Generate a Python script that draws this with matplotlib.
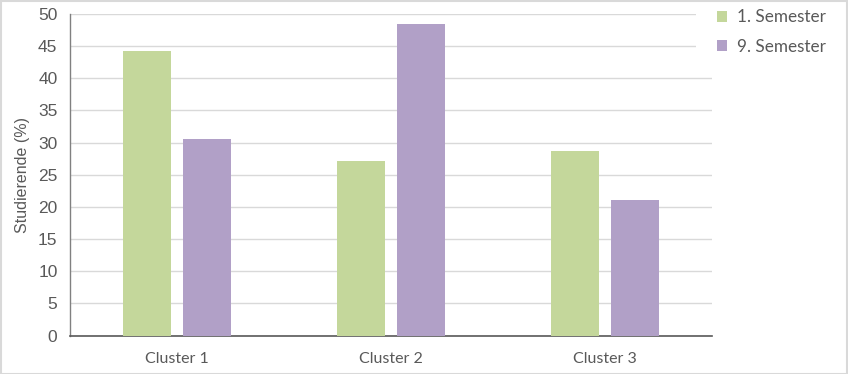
import matplotlib
matplotlib.use("Agg")
import matplotlib.pyplot as plt
import numpy as np
from matplotlib.patches import Rectangle

categories = ["Cluster 1", "Cluster 2", "Cluster 3"]
series_names = ["1. Semester", "9. Semester"]
sem1 = [44.2, 27.1, 28.7]
sem9 = [30.5, 48.5, 21.0]
yticks = [0, 5, 10, 15, 20, 25, 30, 35, 40, 45, 50]

colors = ["#c4d79b", "#b1a0c7"]
txt = "#595959"

fig = plt.figure(figsize=(8.48, 3.74), dpi=100)
W, H = 848, 374
ax = fig.add_axes([70 / W, 1 - 335.5 / H, (712 - 70) / W, (335.5 - 14) / H])

x = np.arange(len(categories))
bw = 0.224
ax.bar(x - 0.142, sem1, bw, color=colors[0], label=series_names[0], zorder=3)
ax.bar(x + 0.142, sem9, bw, color=colors[1], label=series_names[1], zorder=3)

ax.set_xlim(-0.5, 2.5)
ax.set_ylim(0, 50)
ax.set_yticks(yticks)
ax.set_xticks(x)
ax.set_xticklabels(categories, fontfamily="Lato", fontsize=11.5, color=txt)
for lab in ax.get_yticklabels():
    lab.set_fontfamily("Liberation Sans")
    lab.set_fontsize(12.5)
    lab.set_color(txt)
ax.set_axisbelow(True)
ax.tick_params(axis="both", length=0)
ax.tick_params(axis="x", pad=12)
ax.tick_params(axis="y", pad=9)
ax.grid(axis="y", color="#d9d9d9", linewidth=1)
for s in ["top", "right"]:
    ax.spines[s].set_visible(False)
ax.spines["left"].set_color("#808080")
ax.spines["bottom"].set_color("#595959")
ax.spines["left"].set_linewidth(1)
ax.spines["bottom"].set_linewidth(1.2)
ax.set_ylabel("Studierende (%)", fontfamily="Liberation Sans", fontsize=11.5, color=txt, labelpad=6)

# white legend area covering the gridline ends
ax.add_patch(Rectangle((696 / W, 1 - 62 / H), 20 / W, 62 / H, transform=fig.transFigure,
                       facecolor="white", edgecolor="none", clip_on=False, zorder=2))

leg = fig.legend(loc="upper left", bbox_to_anchor=(701 / W, 1 + 7 / H), frameon=True,
                 prop={"family": "Lato", "size": 12.3}, handlelength=0.6, handleheight=0.6,
                 handletextpad=0.55, labelspacing=0.8, borderpad=0.45)
leg.get_frame().set_facecolor("white")
leg.get_frame().set_edgecolor("white")
leg.get_frame().set_alpha(0)
for t in leg.get_texts():
    t.set_color(txt)

fig.patches.append(Rectangle((0.5 / W, 0.5 / H), 1 - 1.5 / W, 1 - 1.5 / H, transform=fig.transFigure,
                             fill=False, edgecolor="#d9d9d9", linewidth=1.5))

fig.savefig("out.png", dpi=100)
